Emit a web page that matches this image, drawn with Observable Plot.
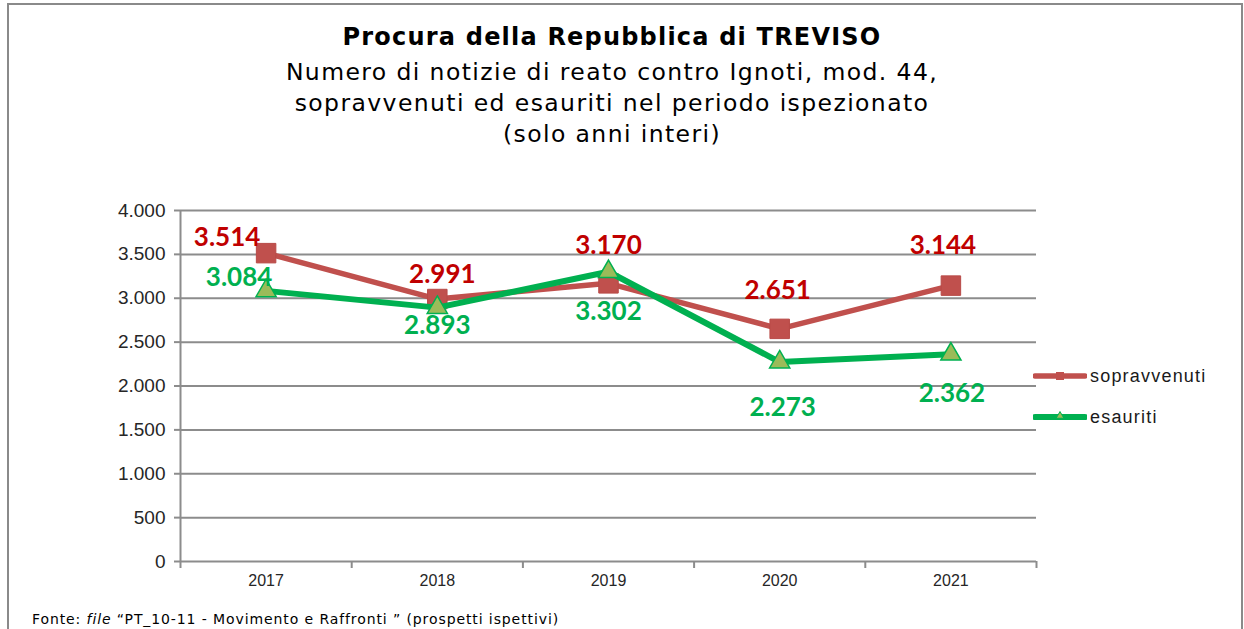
<!DOCTYPE html>
<html>
<head>
<meta charset="utf-8">
<script src="https://cdn.jsdelivr.net/npm/d3@7"></script>
<script src="https://cdn.jsdelivr.net/npm/@observablehq/plot@0.6"></script>
<style>
  html, body { margin: 0; padding: 0; background: #fff; width: 1244px; height: 629px; overflow: hidden; }
  #frame { position: absolute; left: 7px; top: 3px; width: 1236px; height: 640px; border: 2px solid #8a8a8a; border-bottom: none; box-sizing: border-box; }
  .title { position: absolute; left: 0; width: 1224px; text-align: center; font-family: "DejaVu Sans", sans-serif; color: #000; }
  #t1 { top: 22px; font-size: 24px; font-weight: bold; line-height: 31px; letter-spacing: 1.2px; }
  #t2 { top: 57px; font-size: 23.5px; line-height: 31px; letter-spacing: 1.4px; }
  #chart { position: absolute; left: 0; top: 165px; }
  .leg { position: absolute; left: 1033px; height: 20px; display: flex; align-items: center; font-family: "Liberation Sans", Arial, sans-serif; font-size: 18px; color: #1a1a1a; letter-spacing: 1.2px; }
  #footer { position: absolute; left: 32px; top: 611px; font-family: "DejaVu Sans", sans-serif; font-size: 14px; color: #000; white-space: nowrap; letter-spacing: 0.9px; }
</style>
</head>
<body>
<div id="frame"></div>
<div class="title" id="t1">Procura della Repubblica di TREVISO</div>
<div class="title" id="t2">Numero di notizie di reato contro Ignoti, mod. 44,<br>sopravvenuti ed esauriti nel periodo ispezionato<br>(solo anni interi)</div>
<div id="chart"></div>
<div class="leg" id="leg1"></div>
<div class="leg" id="leg2"></div>
<div id="footer">Fonte: <i>file</i> “PT_10-11 - Movimento e Raffronti ” (prospetti ispettivi)</div>
<script>
// ---- data ----
const years = [2017, 2018, 2019, 2020, 2021];
const sopravvenuti = [3514, 2991, 3170, 2651, 3144];
const esauriti = [3084, 2893, 3302, 2273, 2362];
const yTicks = [0, 500, 1000, 1500, 2000, 2500, 3000, 3500, 4000];
const seriesNames = ["sopravvenuti", "esauriti"];

// ---- label nudges (layout only) ----
const redNudgeX = [-39, 5, 0, -2, -8];
const redNudgeY = [-15, -24, -38, -38, -40];
const greenNudgeX = [-27, 0, 0, 3, 1];
const greenNudgeY = [-13, 18, 40, 46, 39];

const RED_LINE = "#C0504D", RED_TXT = "#C00000";
const GREEN_LINE = "#00B050", GREEN_FILL = "#9BBB59", GREEN_TXT = "#00B050";
const GRID = "#8c8c8c";

const itFmt = d3.formatLocale({decimal: ",", thousands: ".", grouping: [3], currency: ["", "€"]}).format(",");

const redRows = years.map((year, i) => ({year, value: sopravvenuti[i]}));
const greenRows = years.map((year, i) => ({year, value: esauriti[i]}));
const bounds = [...years.map(y => y - 0.5), years[years.length - 1] + 0.5];

const labelFont = {fontFamily: "Lato, 'Open Sans', sans-serif", fontWeight: "bold", fontSize: 26};

const chart = Plot.plot({
  width: 1244,
  height: 431,
  marginLeft: 180,
  marginRight: 208,
  marginTop: 45,
  marginBottom: 35,
  x: {domain: [bounds[0], bounds[bounds.length - 1]], axis: null},
  y: {domain: [0, 4000], axis: null},
  style: {background: "transparent", overflow: "visible"},
  marks: [
    Plot.ruleY(yTicks.filter(d => d > 0), {stroke: GRID, strokeWidth: 2}),
    Plot.ruleY([0], {stroke: GRID, strokeWidth: 2}),
    Plot.ruleX([bounds[0]], {stroke: GRID, strokeWidth: 2}),
    Plot.axisY(yTicks, {tickSize: 6, tickPadding: 9, tickFormat: itFmt, stroke: GRID, strokeWidth: 2, fill: "#262626",
      fontSize: 19, fontFamily: "'Liberation Sans', Arial, sans-serif", anchor: "left", label: null,
      style: {letterSpacing: "1.4px"}}),
    Plot.axisX(bounds, {tickSize: 7, tickFormat: () => "", stroke: GRID, strokeWidth: 2, anchor: "bottom", label: null}),
    Plot.axisX(years, {tickSize: 0, tickPadding: 13, tickFormat: d => String(d), fill: "#262626",
      fontSize: 16, fontFamily: "'Liberation Sans', Arial, sans-serif", anchor: "bottom", label: null}),
    Plot.line(redRows, {x: "year", y: "value", stroke: RED_LINE, strokeWidth: 5.5}),
    Plot.dot(redRows, {x: "year", y: "value", symbol: "square", r: 11, fill: RED_LINE, stroke: "#b84a47", strokeWidth: 1}),
    Plot.line(greenRows, {x: "year", y: "value", stroke: GREEN_LINE, strokeWidth: 6}),
    Plot.dot(greenRows, {x: "year", y: "value", symbol: "triangle", r: 7.5, fill: GREEN_FILL, stroke: GREEN_LINE, strokeWidth: 1.5}),
    ...redRows.map((row, i) => Plot.text([row], {x: "year", y: "value", text: d => itFmt(d.value),
      dx: redNudgeX[i], dy: redNudgeY[i], fill: RED_TXT, ...labelFont})),
    ...greenRows.map((row, i) => Plot.text([row], {x: "year", y: "value", text: d => itFmt(d.value),
      dx: greenNudgeX[i], dy: greenNudgeY[i], fill: GREEN_TXT, ...labelFont}))
  ]
});
document.getElementById("chart").appendChild(chart);

// ---- legend ----
function swatch(color, width, marker) {
  const s = d3.create("svg").attr("width", 54).attr("height", 20).style("margin-right", "3px");
  s.append("line").attr("x1", 2).attr("x2", 52).attr("y1", 10).attr("y2", 10)
    .attr("stroke", color).attr("stroke-width", width).attr("stroke-linecap", "round");
  if (marker === "square") {
    s.append("rect").attr("x", 23).attr("y", 6).attr("width", 8).attr("height", 8).attr("fill", color);
  } else {
    s.append("path").attr("d", d3.symbol(d3.symbolTriangle, 26)()).attr("transform", "translate(27,9)")
      .attr("fill", GREEN_FILL).attr("stroke", GREEN_LINE).attr("stroke-width", 1);
  }
  return s.node();
}
const leg1 = document.getElementById("leg1");
leg1.style.top = "366px";
leg1.appendChild(swatch(RED_LINE, 5.5, "square"));
leg1.appendChild(document.createTextNode(seriesNames[0]));
const leg2 = document.getElementById("leg2");
leg2.style.top = "407px";
leg2.appendChild(swatch(GREEN_LINE, 6, "triangle"));
leg2.appendChild(document.createTextNode(seriesNames[1]));
</script>
</body>
</html>
